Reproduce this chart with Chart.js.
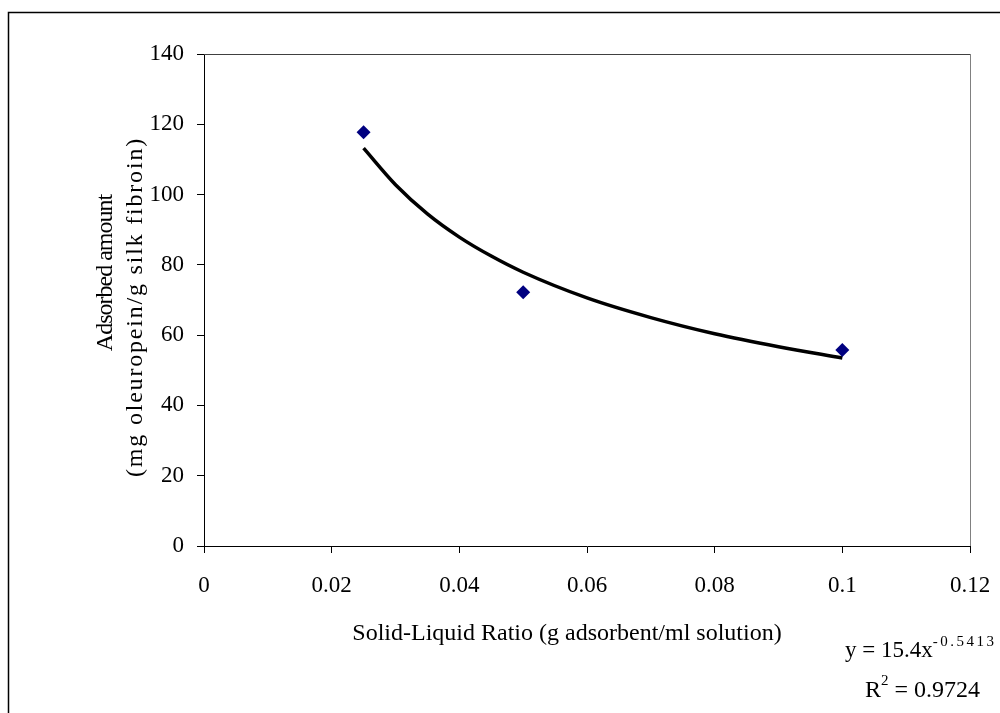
<!DOCTYPE html>
<html>
<head>
<meta charset="utf-8">
<script src="https://cdn.jsdelivr.net/npm/chart.js@4.4.1/dist/chart.umd.min.js"></script>
<style>
  html, body { margin: 0; padding: 0; background: #fff; }
  #wrap { width: 1000px; height: 713px; position: relative; }
</style>
</head>
<body>
<div id="wrap"><canvas id="c"></canvas></div>
<script>
// measured points (solid-liquid ratio vs adsorbed amount)
const ratio = [0.025, 0.05, 0.1];
const adsorbed = [117.7, 72.2, 55.8];
// power trend line
const fitX = [0.025, 0.03, 0.035, 0.04, 0.045, 0.05, 0.06, 0.07, 0.08, 0.09, 0.1];
const fitY = [113.2, 102.8, 94.5, 87.9, 82.5, 77.9, 70.6, 65.0, 60.4, 56.7, 53.5];
const xTicks = [0, 0.02, 0.04, 0.06, 0.08, 0.1, 0.12];
const yTicks = [0, 20, 40, 60, 80, 100, 120, 140];
const xTitle = "Solid-Liquid Ratio (g adsorbent/ml solution)";
const yTitle = ["Adsorbed amount", "(mg oleuropein/g silk fibroin)"];
const eqText = "y = 15.4x", eqExp = "-0.5413";
const r2Text = "R", r2Exp = "2", r2Val = " = 0.9724";

const FONT = "Liberation Serif";

// 바깥 테두리, 플롯 상/우 테두리, 축 제목, 추세식 텍스트
const extras = {
  id: "extras",
  beforeDraw(chart) {
    const ctx = chart.ctx;
    ctx.save();
    ctx.fillStyle = "#fff";
    ctx.fillRect(0, 0, chart.width, chart.height);
    ctx.restore();
  },
  afterDraw(chart) {
    const { ctx, chartArea: a } = chart;
    ctx.save();
    ctx.strokeStyle = "#000";
    ctx.lineWidth = 1.5;
    ctx.strokeRect(8.5, 12.5, 1200, 900);
    ctx.lineWidth = 1;
    ctx.strokeStyle = "#404040";
    ctx.beginPath(); ctx.moveTo(a.left, a.top + 0.5); ctx.lineTo(a.right, a.top + 0.5); ctx.stroke();
    ctx.strokeStyle = "#808080";
    ctx.beginPath(); ctx.moveTo(a.right + 0.5, a.top); ctx.lineTo(a.right + 0.5, a.bottom); ctx.stroke();

    ctx.fillStyle = "#000";
    ctx.textBaseline = "alphabetic";

    // x title
    ctx.textAlign = "center";
    ctx.font = `24px "${FONT}"`;
    ctx.fillText(xTitle, 567, 640);

    // y title (two rotated lines)
    const yLines = [[112, 273, 24, "-1px"], [142, 307, 24, "1.8px"]];
    yLines.forEach(([bx, cy, size, sp], i) => {
      ctx.save();
      ctx.translate(bx, cy);
      ctx.rotate(-Math.PI / 2);
      ctx.font = `${size}px "${FONT}"`;
      ctx.letterSpacing = sp;
      ctx.fillText(yTitle[i], 0, 0);
      ctx.restore();
    });

    // trend equation
    ctx.textAlign = "left";
    ctx.font = `23px "${FONT}"`;
    let x = 845;
    ctx.fillText(eqText, x, 657);
    x += ctx.measureText(eqText).width;
    ctx.font = `15px "${FONT}"`;
    ctx.letterSpacing = "2.5px";
    ctx.fillText(eqExp, x, 646);
    ctx.letterSpacing = "0px";

    ctx.font = `24px "${FONT}"`;
    x = 865;
    ctx.fillText(r2Text, x, 697);
    x += ctx.measureText(r2Text).width;
    ctx.font = `15px "${FONT}"`;
    ctx.fillText(r2Exp, x, 685);
    x += ctx.measureText(r2Exp).width;
    ctx.font = `24px "${FONT}"`;
    ctx.fillText(r2Val, x, 697);
    ctx.restore();
  }
};

new Chart(document.getElementById("c"), {
  type: "scatter",
  data: {
    datasets: [
      {
        data: ratio.map((v, i) => ({ x: v, y: adsorbed[i] })),
        pointStyle: "rectRot", pointRadius: 7, pointHoverRadius: 7,
        backgroundColor: "#000080", borderColor: "#000080", borderWidth: 0,
        order: 0,
      },
      {
        data: fitX.map((v, i) => ({ x: v, y: fitY[i] })),
        showLine: true, borderColor: "#000", borderWidth: 3.5,
        pointRadius: 0, cubicInterpolationMode: "monotone",
        order: 1,
      },
    ],
  },
  plugins: [extras],
  options: {
    responsive: true, maintainAspectRatio: false, animation: false,
    layout: { padding: { left: 0, right: 30, top: 54, bottom: 0 } },
    plugins: { legend: { display: false }, tooltip: { enabled: false } },
    scales: {
      x: {
        type: "linear", min: 0, max: 0.12,
        // 라벨 여백 무시 → 플롯 오른쪽 끝을 x=970에 고정
        afterFit: (s) => { s.height = 167; s.paddingLeft = 0; s.paddingRight = 0; },
        afterBuildTicks: (s) => { s.ticks = xTicks.map((v) => ({ value: v })); },
        ticks: { color: "#000", font: { family: FONT, size: 23 }, padding: 19,
          maxRotation: 0, autoSkip: false, callback: (v) => String(v) },
        grid: { drawOnChartArea: false, drawTicks: true, tickLength: 7, color: "#000" },
        border: { display: true, color: "#000", width: 1 },
      },
      y: {
        type: "linear", min: 0, max: 140,
        afterFit: (s) => { s.width = 204; s.paddingTop = 0; s.paddingBottom = 0; },
        afterBuildTicks: (s) => { s.ticks = yTicks.map((v) => ({ value: v })); },
        ticks: { color: "#000", font: { family: FONT, size: 23 }, padding: 13, autoSkip: false },
        grid: { drawOnChartArea: false, drawTicks: true, tickLength: 7, color: "#000" },
        border: { display: true, color: "#000", width: 1 },
      },
    },
  },
});
</script>
</body>
</html>
